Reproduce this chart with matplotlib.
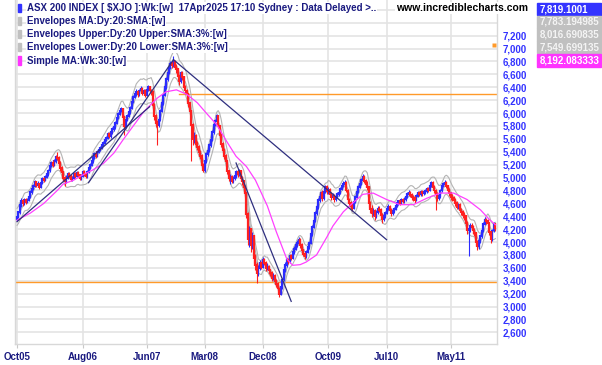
import numpy as np
import pandas as pd
import matplotlib
matplotlib.use('Agg')
import matplotlib.pyplot as plt
from matplotlib.patches import Rectangle

plt.rcParams['font.family'] = ['Liberation Sans', 'DejaVu Sans']

# === Data (weekly bars) ===
START = '2005-10-03'
FIRST_OPEN = 4350

closes = [
    4390, 4460, 4570, 4640, 4600, 4660, 4620, 4650, 4700, 4770,
    4820, 4870, 4930, 4880, 4900, 4860, 4920, 4980, 4960, 5010,
    5050, 5110, 5180, 5230, 5200, 5250, 5320, 5300, 5230, 5150,
    5080, 4990, 4940, 5000, 5060, 5020, 4970, 5000, 5050, 5030,
    5070, 5040, 5000, 5030, 5080, 5060, 5020, 5090, 5150, 5200,
    5250, 5310, 5370, 5340, 5400, 5430, 5460, 5510, 5540, 5580,
    5620, 5670, 5640, 5700, 5750, 5780, 5850, 5930, 5990, 6030,
    6060, 5940, 5800, 5890, 5960, 6010, 6080, 6170, 6250, 6300,
    6330, 6290, 6350, 6380, 6310, 6340, 6280, 6360, 6400, 6350,
    6330, 6130, 5950, 5850, 5820, 5900, 6030, 6150, 6280, 6400,
    6530, 6620, 6700, 6760, 6740, 6800, 6720, 6680, 6580, 6490,
    6620, 6560, 6400, 6350, 6290, 6150, 6030, 5820, 5600, 5650,
    5520, 5480, 5400, 5340, 5200, 5110, 5250, 5360, 5420, 5500,
    5580, 5700, 5820, 5880, 5950, 5800, 5660, 5520, 5430, 5330,
    5250, 5100, 4990, 5010, 4950, 4990, 5030, 5080, 5050, 5100,
    5000, 4940, 4850, 4760, 4430, 4050, 4200, 3950, 4090, 3750,
    3640, 3520, 3600, 3680, 3620, 3730, 3680, 3600, 3620, 3560,
    3520, 3450, 3480, 3400, 3350, 3280, 3200, 3300, 3420, 3560,
    3650, 3720, 3700, 3780, 3760, 3840, 3900, 3950, 3990, 4040,
    3950, 3880, 3820, 3780, 3850, 3920, 3990, 4120, 4240, 4330,
    4450, 4540, 4650, 4700, 4760, 4680, 4780, 4860, 4790, 4810,
    4740, 4700, 4720, 4660, 4700, 4740, 4760, 4820, 4870, 4900,
    4920, 4800, 4660, 4600, 4560, 4530, 4620, 4700, 4780, 4860,
    4900, 4960, 5010, 4950, 4900, 4850, 4610, 4520, 4450, 4480,
    4400, 4470, 4520, 4500, 4420, 4350, 4400, 4450, 4520, 4550,
    4500, 4450, 4480, 4520, 4560, 4600, 4630, 4610, 4660, 4640,
    4660, 4700, 4740, 4760, 4730, 4700, 4680, 4650, 4720, 4760,
    4740, 4770, 4760, 4780, 4790, 4820, 4810, 4870, 4920, 4850,
    4800, 4750, 4690, 4710, 4800, 4870, 4900, 4920, 4870, 4810,
    4760, 4700, 4680, 4650, 4600, 4550, 4580, 4500, 4460, 4420,
    4400, 4300, 4180, 4200, 4250, 4240, 4180, 4140, 4000, 3940,
    4020, 4090, 4180, 4280, 4340, 4320, 4290, 4150, 4040, 4180, 4280, 4220,
]

highs = [
    4420, 4480, 4590, 4680, 4670, 4690, 4680, 4690, 4730, 4800,
    4850, 4900, 4960, 4950, 4940, 4920, 4950, 5010, 5010, 5040,
    5080, 5140, 5200, 5260, 5270, 5290, 5350, 5390, 5330, 5250,
    5180, 5100, 5020, 5040, 5090, 5090, 5040, 5030, 5080, 5080,
    5100, 5100, 5060, 5060, 5110, 5110, 5080, 5120, 5180, 5230,
    5280, 5340, 5400, 5410, 5430, 5460, 5490, 5540, 5570, 5610,
    5650, 5700, 5700, 5730, 5780, 5820, 5880, 5960, 6020, 6060,
    6090, 6080, 5960, 5920, 5990, 6040, 6110, 6200, 6280, 6340,
    6370, 6360, 6380, 6420, 6400, 6380, 6370, 6390, 6440, 6420,
    6380, 6350, 6150, 5980, 5900, 5940, 6060, 6180, 6310, 6430,
    6560, 6650, 6730, 6800, 6810, 6880, 6830, 6760, 6700, 6600,
    6660, 6650, 6580, 6440, 6380, 6310, 6170, 6050, 5850, 5700,
    5680, 5570, 5510, 5430, 5360, 5230, 5280, 5390, 5460, 5530,
    5610, 5730, 5850, 5910, 5990, 5970, 5820, 5680, 5550, 5460,
    5360, 5270, 5120, 5050, 5040, 5030, 5070, 5120, 5110, 5140,
    5120, 5030, 4970, 4880, 4780, 4460, 4250, 4220, 4150, 4110,
    3820, 3690, 3650, 3720, 3710, 3770, 3760, 3700, 3670, 3650,
    3590, 3550, 3520, 3500, 3430, 3380, 3310, 3330, 3450, 3590,
    3690, 3760, 3760, 3810, 3820, 3870, 3940, 3990, 4030, 4080,
    4060, 3980, 3900, 3850, 3880, 3950, 4020, 4150, 4270, 4360,
    4480, 4570, 4680, 4740, 4790, 4800, 4810, 4890, 4880, 4850,
    4840, 4770, 4760, 4750, 4740, 4770, 4790, 4850, 4900, 4940,
    4960, 4940, 4820, 4690, 4630, 4600, 4650, 4730, 4810, 4890,
    4930, 4990, 5050, 5040, 4980, 4940, 4870, 4640, 4570, 4530,
    4510, 4500, 4560, 4560, 4530, 4450, 4430, 4480, 4550, 4590,
    4580, 4530, 4510, 4550, 4590, 4630, 4660, 4660, 4690, 4690,
    4700, 4730, 4770, 4800, 4790, 4760, 4730, 4710, 4750, 4790,
    4790, 4800, 4800, 4810, 4820, 4850, 4860, 4900, 4950, 4940,
    4880, 4830, 4780, 4750, 4830, 4900, 4930, 4960, 4950, 4890,
    4840, 4780, 4740, 4710, 4680, 4630, 4610, 4600, 4530, 4490,
    4460, 4420, 4320, 4260, 4290, 4300, 4270, 4220, 4160, 4040,
    4060, 4130, 4210, 4310, 4390, 4380, 4360, 4310, 4170, 4210, 4310, 4300,
]

lows = [
    4320, 4370, 4440, 4550, 4560, 4580, 4590, 4600, 4630, 4680,
    4750, 4800, 4850, 4850, 4860, 4830, 4840, 4900, 4930, 4940,
    4990, 5030, 5090, 5160, 5170, 5180, 5230, 5270, 5190, 5100,
    5040, 4950, 4870, 4920, 4980, 4990, 4940, 4950, 4980, 5000,
    5010, 5010, 4970, 4970, 5010, 5030, 4990, 5000, 5070, 5130,
    5180, 5230, 5290, 5310, 5320, 5380, 5410, 5440, 5490, 5520,
    5560, 5600, 5610, 5620, 5680, 5720, 5760, 5830, 5910, 5970,
    6010, 5900, 5660, 5770, 5870, 5940, 5990, 6060, 6150, 6230,
    6270, 6250, 6270, 6330, 6280, 6280, 6250, 6260, 6340, 6310,
    6280, 6100, 5900, 5780, 5510, 5780, 5880, 6010, 6130, 6260,
    6380, 6500, 6600, 6680, 6700, 6720, 6680, 6620, 6530, 6440,
    6470, 6520, 6360, 6300, 6240, 6100, 5980, 5250, 5500, 5540,
    5470, 5420, 5350, 5290, 5150, 5080, 5090, 5230, 5330, 5400,
    5480, 5560, 5680, 5800, 5860, 5770, 5620, 5480, 5390, 5290,
    5200, 5060, 4940, 4900, 4910, 4920, 4960, 5000, 5010, 5020,
    4960, 4880, 4790, 4680, 4380, 3950, 3930, 3850, 3900, 3680,
    3560, 3370, 3470, 3560, 3580, 3600, 3640, 3550, 3560, 3510,
    3470, 3400, 3410, 3360, 3300, 3230, 3150, 3180, 3280, 3400,
    3530, 3620, 3660, 3670, 3720, 3740, 3810, 3870, 3920, 3960,
    3910, 3840, 3780, 3740, 3760, 3830, 3900, 3970, 4100, 4220,
    4310, 4420, 4520, 4620, 4680, 4640, 4660, 4760, 4750, 4740,
    4700, 4650, 4670, 4620, 4630, 4680, 4710, 4740, 4800, 4850,
    4870, 4770, 4620, 4560, 4510, 4480, 4510, 4600, 4680, 4760,
    4840, 4880, 4940, 4910, 4860, 4800, 4540, 4450, 4390, 4400,
    4340, 4370, 4440, 4460, 4380, 4300, 4320, 4370, 4430, 4490,
    4460, 4410, 4420, 4450, 4490, 4540, 4570, 4570, 4590, 4600,
    4610, 4630, 4680, 4720, 4700, 4660, 4640, 4610, 4630, 4700,
    4710, 4710, 4720, 4730, 4750, 4760, 4780, 4790, 4850, 4820,
    4760, 4500, 4640, 4650, 4690, 4780, 4850, 4870, 4840, 4770,
    4720, 4660, 4640, 4610, 4560, 4510, 4520, 4460, 4420, 4380,
    4340, 4250, 4120, 3780, 4150, 4180, 4130, 4090, 3960, 3880,
    3900, 3990, 4060, 4160, 4260, 4280, 4250, 4110, 3990, 4010, 4160, 4170,
]

# 30-week simple MA, read as (week number, value)
ma30_week = [0, 9, 18, 27, 31, 38, 44, 51, 58, 65, 71, 78, 85, 94, 100, 107,
             114, 121, 127, 134, 141, 147, 154, 160, 168, 174, 181, 185, 190,
             194, 201, 208, 212, 219, 226, 232, 239, 248, 257, 266, 275, 284,
             293, 302, 311, 317, 321]
ma30_val = [4340, 4450, 4600, 4800, 4900, 4960, 5040, 5120, 5220, 5380, 5580,
            5800, 6020, 6230, 6330, 6360, 6290, 6160, 6000, 5820, 5550, 5330,
            5170, 4960, 4560, 4160, 3740, 3640, 3650, 3690, 3800, 4080, 4250,
            4470, 4620, 4740, 4760, 4660, 4580, 4580, 4680, 4760, 4760, 4660,
            4500, 4350, 4270]

# trend lines: (start week, start value, end week, end value)
trendlines = [
    (0, 4316, 89, 6099),
    (48, 4921, 105, 6828),
    (105, 6828, 248, 4037),
    (147, 5226, 184, 3081),
]
upper_level, upper_from = 6300, 109
lower_level = 3380
marker_week, marker_val = 320, 7060

tick_dates = ['2005-10-03', '2006-08-07', '2007-06-04', '2008-03-03',
              '2008-12-01', '2009-10-05', '2010-07-05', '2011-05-02']
tick_labels = ['Oct05', 'Aug06', 'Jun07', 'Mar08', 'Dec08', 'Oct09', 'Jul10', 'May11']
y_ticks = list(range(2600, 7201, 200))

legend_lines = [
    ('ASX 200 INDEX [ $XJO ]:Wk:[w]  17Apr2025 17:10 Sydney : Data Delayed >..', '#3333ff'),
    ('Envelopes MA:Dy:20:SMA:[w]', '#c0c0c0'),
    ('Envelopes Upper:Dy:20 Upper:SMA:3%:[w]', '#c0c0c0'),
    ('Envelopes Lower:Dy:20 Lower:SMA:3%:[w]', '#c0c0c0'),
    ('Simple MA:Wk:30:[w]', '#ff33ff'),
]
value_boxes = [
    ('7,819.1001', '#3333ff', 'white'),
    ('7,783.194985', '#c0c0c0', '#f4f4f4'),
    ('8,016.690835', '#c0c0c0', '#f4f4f4'),
    ('7,549.699135', '#c0c0c0', '#f4f4f4'),
    ('8,192.083333', '#ff33ff', 'white'),
]

# === Style ===
W, H = 602, 365
BLUE, RED = '#2b2bff', '#ff2020'
GRAY = '#b4b4b4'
PINK = '#ff40ff'
NAVY = '#2f2f7f'
ORANGE = '#ff9a2a'
GRID = '#e4e4e4'
TXT = '#1a1a80'

n = len(closes)
assert len(highs) == n and len(lows) == n, (n, len(highs), len(lows))
dates = pd.date_range(START, periods=n, freq='W-MON')
week = pd.Timedelta(weeks=1)
closes_a = np.array(closes, float)
opens_a = np.array([FIRST_OPEN] + closes[:-1], float)
highs_a = np.array(highs, float)
lows_a = np.array(lows, float)
up = closes_a >= opens_a

fig = plt.figure(figsize=(W / 100, H / 100), dpi=100)
ax = fig.add_axes([15 / W, 1 - 344 / H, 482 / W, 344 / H])

x0 = dates[0]
ax.set_xlim(x0 - 1.34 * week, x0 + 322.1 * week)
ax.set_ylim(2420, 7753)

# grid
for v in range(2600, 7801, 200):
    ax.axhline(v, color=GRID, lw=1.2, zorder=0)
for d in tick_dates:
    ax.axvline(pd.Timestamp(d), color=GRID, lw=1.2, zorder=0)

# orange levels
ax.axhline(lower_level, color=ORANGE, lw=1.0, zorder=1)
ax.plot([dates[upper_from], x0 + 322.1 * week], [upper_level, upper_level],
        color=ORANGE, lw=1.0, zorder=1)

# envelopes (20 day ~ 4 week SMA, +/-3%)
mid = pd.Series(closes_a).rolling(4, min_periods=1).mean().values
for k in (1.0, 1.03, 0.97):
    ax.plot(dates, mid * k, color=GRAY, lw=0.8, zorder=2)

# bars
for mask, col in ((up, BLUE), (~up, RED)):
    ax.vlines(dates[mask], lows_a[mask], highs_a[mask], color=col, lw=0.8, zorder=3)
    ax.vlines(dates[mask], np.minimum(opens_a, closes_a)[mask] - 15,
              np.maximum(opens_a, closes_a)[mask] + 15, color=col, lw=1.6, zorder=3)

# 30 week MA
ax.plot(dates[ma30_week], ma30_val, color=PINK, lw=0.9, zorder=4)

# trend lines
for w0, v0, w1, v1 in trendlines:
    ax.plot([x0 + w0 * week, x0 + w1 * week], [v0, v1], color=NAVY, lw=0.9, zorder=5)

ax.plot([x0 + marker_week * week], [marker_val], marker='s', ms=2.2,
        color=ORANGE, mec='none', zorder=5)

# axes styling
ax.set_xticks([pd.Timestamp(d) for d in tick_dates])
ax.set_xticklabels(tick_labels)
ax.set_yticks(y_ticks)
ax.set_yticklabels([f'{v:,}' for v in y_ticks])
ax.yaxis.tick_right()
ax.tick_params(axis='y', length=0, pad=4, labelsize=7, labelcolor='#3333ff')
ax.tick_params(axis='x', length=3, width=0.8, color='#c8c8c8', pad=3,
               labelsize=7, labelcolor=TXT)
for lab in ax.get_xticklabels() + ax.get_yticklabels():
    lab.set_fontweight('bold')
for s in ax.spines.values():
    s.set_color('#d8d8d8')
    s.set_linewidth(1.0)
ax.spines['top'].set_visible(False)


def fx(px):
    return px / W


def fy(py):
    return 1 - py / H


# legend block top-left
legend_y = [8, 21, 34, 47, 60.5]
for (txt, col), yy in zip(legend_lines, legend_y):
    fig.patches.append(Rectangle((fx(17.5), fy(yy + 4.3)), 3.5 / W, 8.6 / H,
                                 transform=fig.transFigure, color=col, zorder=6))
    fig.text(fx(27), fy(yy), txt, fontsize=7, fontweight='bold', color=TXT,
             va='center', ha='left', zorder=6,
             bbox=dict(fc='white', ec='none', pad=0.6))

fig.text(fx(396), fy(8), 'www.incrediblecharts.com', fontsize=7.5,
         fontweight='bold', color='black', va='center', ha='left', zorder=6,
         bbox=dict(fc='white', ec='none', pad=0.6))

# value boxes top-right
box_top = [2.7, 15.7, 28.5, 41.2, 54.3]
for (txt, bg, fg), yt in zip(value_boxes, box_top):
    fig.patches.append(Rectangle((fx(537), fy(yt + 12.2)), 64 / W, 12.2 / H,
                                 transform=fig.transFigure, color=bg, zorder=6))
    fig.text(fx(540), fy(yt + 6.3), txt, fontsize=7, fontweight='bold',
             color=fg, va='center', ha='left', zorder=7)

fig.savefig('out.png', dpi=100, facecolor='white')
